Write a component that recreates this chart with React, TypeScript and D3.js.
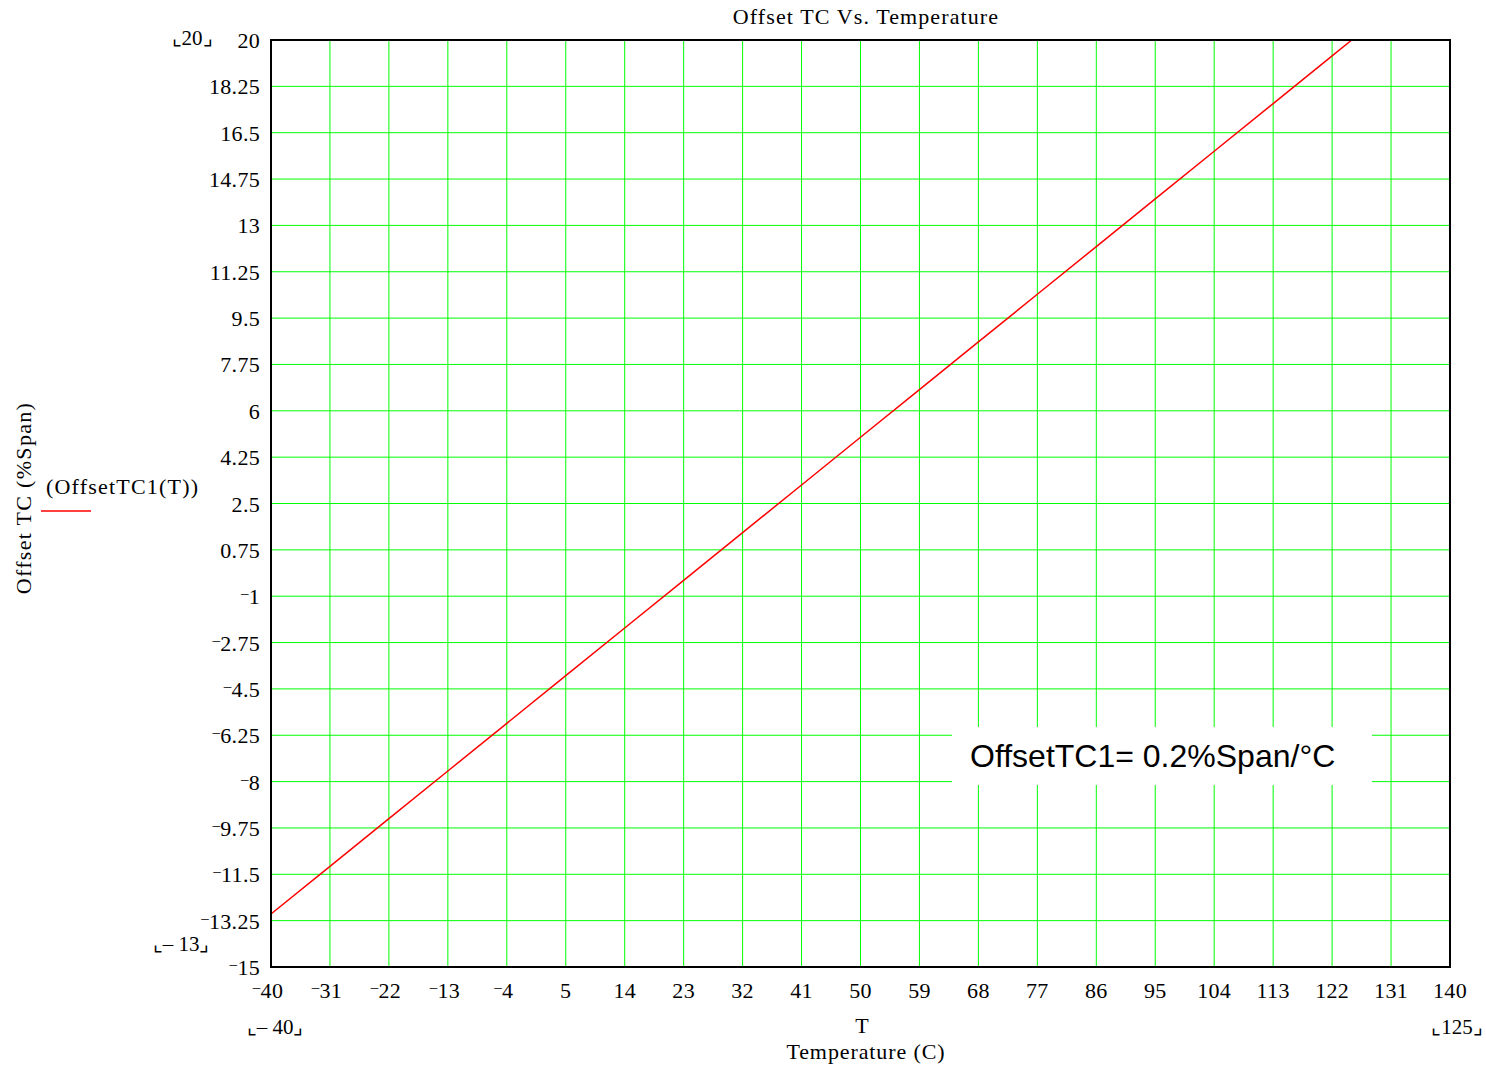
import React from 'react'
import * as d3 from 'd3'

// values
const temps = [-40, -31, -22, -13, -4, 5, 14, 23, 32, 41, 50, 59, 68, 77, 86, 95, 104, 113, 122, 125]
const offsetTC = [-13, -11.2, -9.4, -7.6, -5.8, -4.0, -2.2, -0.4, 1.4, 3.2, 5.0, 6.8, 8.6, 10.4, 12.2, 14.0, 15.8, 17.6, 19.4, 20]
const xTicks = [-40, -31, -22, -13, -4, 5, 14, 23, 32, 41, 50, 59, 68, 77, 86, 95, 104, 113, 122, 131, 140]
const yTicks = [20, 18.25, 16.5, 14.75, 13, 11.25, 9.5, 7.75, 6, 4.25, 2.5, 0.75, -1, -2.75, -4.5, -6.25, -8, -9.75, -11.5, -13.25, -15]

const serif = '"Liberation Serif", "Times New Roman", serif'

function Num({ v, ...rest }: { v: number } & React.SVGProps<SVGTextElement>) {
    const neg = v < 0
    return (
        <text {...rest}>
            {neg && <tspan fontSize={15} dy={-6}>{'\u2013'}</tspan>}
            <tspan dy={neg ? 6 : 0}>{Math.abs(v)}</tspan>
        </text>
    )
}

export default function App() {
    const left = 271, right = 1450, top = 40, bottom = 967

    const x = d3.scaleLinear().domain([-40, 140]).range([left, right])
    const y = d3.scaleLinear().domain([-15, 20]).range([bottom, top])

    const line = d3.line<number>()
        .x((d, i) => x(temps[i]))
        .y(d => y(d))

    return (
        <svg width={1486} height={1068} style={{ position: 'absolute', left: 0, top: 0 }} fontFamily={serif}>
            <rect width={1486} height={1068} fill="#fff" />

            {/* grid */}
            {xTicks.slice(1, -1).map(t => (
                <line key={'gx' + t} x1={x(t)} x2={x(t)} y1={top} y2={bottom} stroke="#00ff00" strokeWidth={1} />
            ))}
            {yTicks.slice(1, -1).map(t => (
                <line key={'gy' + t} x1={left} x2={right} y1={y(t)} y2={y(t)} stroke="#00ff00" strokeWidth={1} />
            ))}

            {/* annotation box */}
            <rect x={952} y={727} width={420} height={58} fill="#fff" />
            <text x={970} y={767} fontFamily='"Liberation Sans", Arial, sans-serif' fontSize={32} fill="#000">
                OffsetTC1= 0.2%Span/°C
            </text>

            <path d={line(offsetTC) || ''} fill="none" stroke="#ff0000" strokeWidth={1.5} />

            {/* frame */}
            <rect x={left} y={top} width={right - left} height={bottom - top} fill="none" stroke="#000" strokeWidth={2} />

            {/* tick labels */}
            {yTicks.map(t => (
                <Num key={'ly' + t} v={t} x={260} y={y(t) + 8} textAnchor="end" fontSize={22} letterSpacing={0.3} />
            ))}
            {xTicks.map(t => (
                <Num key={'lx' + t} v={t} x={x(t) + (t < 0 ? -3 : 0)} y={998} textAnchor="middle" fontSize={22} letterSpacing={0.3} />
            ))}

            {/* range markers */}
            <text x={192} y={45} textAnchor="middle" fontSize={21}>⌞20⌟</text>
            <text x={181} y={951} textAnchor="middle" fontSize={21}>⌞– 13⌟</text>
            <text x={275} y={1034} textAnchor="middle" fontSize={21}>⌞– 40⌟</text>
            <text x={1457} y={1034} textAnchor="middle" fontSize={21}>⌞125⌟</text>

            {/* titles */}
            <text x={866} y={24} textAnchor="middle" fontSize={22} letterSpacing={1.1}>Offset TC Vs. Temperature</text>
            <text x={862} y={1033} textAnchor="middle" fontSize={22}>T</text>
            <text x={866} y={1059} textAnchor="middle" fontSize={22} letterSpacing={0.9}>Temperature (C)</text>
            <text transform="translate(31,498) rotate(-90)" textAnchor="middle" fontSize={22} letterSpacing={1.3}>Offset TC (%Span)</text>

            {/* legend */}
            <text x={46} y={494} fontSize={22} letterSpacing={1.2}>(OffsetTC1(T))</text>
            <line x1={41} x2={91} y1={511} y2={511} stroke="#ff0000" strokeWidth={1.5} />
        </svg>
    )
}
